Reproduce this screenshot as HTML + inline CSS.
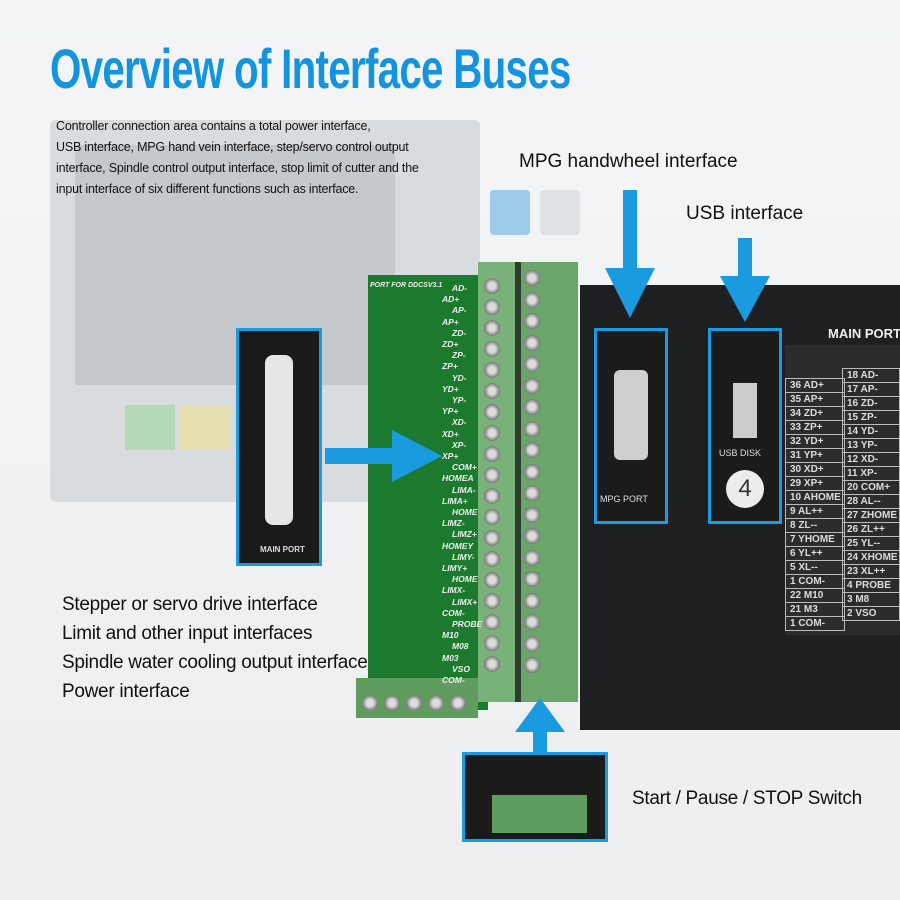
<!DOCTYPE html>
<html><head><meta charset="utf-8"><style>
body{margin:0;width:900px;height:900px;overflow:hidden;background:linear-gradient(180deg,#f4f5f6,#eceef0);font-family:"Liberation Sans",sans-serif;position:relative}
.a{position:absolute}
.t{color:#111}
.pin{position:absolute;font:bold italic 8.5px "Liberation Sans",sans-serif;color:#eee;white-space:nowrap}
.scr{position:absolute;width:16px;height:16px;border-radius:50%;background:radial-gradient(circle,#ddd 30%,#777 70%,#4f7c4f 100%)}
.cell{position:absolute;border:1px solid #bbb;font:bold 10px "Liberation Sans",sans-serif;color:#ddd;padding-left:4px;box-sizing:border-box;white-space:nowrap}
</style></head><body>
<div class="a" style="left:50px;top:120px;width:430px;height:382px;background:#d9dcdf;border-radius:6px"></div>
<div class="a" style="left:75px;top:145px;width:320px;height:240px;background:#c6c9cc"></div>
<div class="a" style="left:490px;top:190px;width:40px;height:45px;background:#9dcbe9;border-radius:4px"></div>
<div class="a" style="left:540px;top:190px;width:40px;height:45px;background:#e0e3e6;border-radius:4px"></div>
<div class="a" style="left:125px;top:405px;width:50px;height:45px;background:#b5d8b5"></div>
<div class="a" style="left:180px;top:405px;width:50px;height:45px;background:#e6e0b0"></div>
<div class="a" style="left:50px;top:36px;font:bold 56px 'Liberation Sans Narrow','Liberation Sans',sans-serif;color:#1494df;letter-spacing:-1px;white-space:nowrap;transform:scaleX(0.72);transform-origin:left">Overview of Interface Buses</div>
<div class="a t" style="left:56px;top:116px;font-size:12.5px;line-height:21px;width:440px;letter-spacing:-0.2px">Controller connection area contains a total power interface,<br>USB interface, MPG hand vein interface, step/servo control output<br>interface, Spindle control output interface, stop limit of cutter and the<br>input interface of six different functions such as interface.</div>
<div class="a t" style="left:519px;top:151px;font-size:19px">MPG handwheel interface</div>
<div class="a t" style="left:686px;top:203px;font-size:19px">USB interface</div>
<div class="a" style="left:580px;top:285px;width:320px;height:445px;background:#1e1f21"></div>
<div class="a" style="left:828px;top:326px;font:bold 13px 'Liberation Sans',sans-serif;color:#eee;white-space:nowrap">MAIN PORT</div>
<div class="a" style="left:785px;top:345px;width:115px;height:290px;background:#2b2c2e"></div>
<div id="tbl"></div>
<div class="a" style="left:368px;top:275px;width:120px;height:435px;background:#1c7a2e"></div>
<div class="a" style="left:478px;top:262px;width:100px;height:440px;background:#6aa56a"></div>
<div class="a" style="left:478px;top:262px;width:40px;height:440px;background:#78b278"></div>
<div class="a" style="left:515px;top:262px;width:6px;height:440px;background:#2b3d2b"></div>
<div class="a" style="left:356px;top:678px;width:122px;height:40px;background:#5e9d5e"></div>
<div class="a" style="left:370px;top:282px;font:bold italic 7px 'Liberation Sans',sans-serif;color:#eee;white-space:nowrap">PORT FOR DDCSV3.1</div>
<div id="pins"></div>
<div class="a" style="left:236px;top:328px;width:86px;height:238px;background:#1a1a1a;border:3px solid #1a9be0;box-sizing:border-box"></div>
<div class="a" style="left:265px;top:355px;width:28px;height:170px;background:#e5e5e5;border-radius:8px"></div>
<div class="a" style="left:260px;top:545px;font:bold 8px sans-serif;color:#ddd">MAIN PORT</div>
<div class="a" style="left:594px;top:328px;width:74px;height:196px;background:#1b1b1b;border:3px solid #1a9be0;box-sizing:border-box"></div>
<div class="a" style="left:614px;top:370px;width:34px;height:90px;background:#cfcfcf;border-radius:6px"></div>
<div class="a" style="left:600px;top:494px;font:9px sans-serif;color:#ddd">MPG PORT</div>
<div class="a" style="left:708px;top:328px;width:74px;height:196px;background:#1b1b1b;border:3px solid #1a9be0;box-sizing:border-box"></div>
<div class="a" style="left:733px;top:383px;width:24px;height:55px;background:#ccc"></div>
<div class="a" style="left:719px;top:448px;font:9px sans-serif;color:#ddd">USB DISK</div>
<div class="a" style="left:726px;top:470px;width:38px;height:38px;border-radius:50%;background:#ececec;font:24px sans-serif;color:#333;text-align:center;line-height:38px">4</div>
<div class="a" style="left:462px;top:752px;width:146px;height:90px;background:#1b1b1b;border:3px solid #1a9be0;box-sizing:border-box"></div>
<div class="a" style="left:492px;top:795px;width:95px;height:38px;background:#5e9d5e"></div>
<svg class="a" style="left:0;top:0" width="900" height="900">
<g fill="#1a9be0">
<rect x="623" y="190" width="14" height="80"/><polygon points="605,268 655,268 630,318"/>
<rect x="738" y="238" width="14" height="40"/><polygon points="720,276 770,276 745,322"/>
<rect x="325" y="448" width="70" height="16"/><polygon points="392,430 392,482 442,456"/>
<rect x="533" y="730" width="14" height="24"/><polygon points="515,732 565,732 540,698"/>
</g></svg>
<div class="a t" style="left:62px;top:590px;font-size:19px;line-height:29px;letter-spacing:-0.3px">Stepper or servo drive interface<br>Limit and other input interfaces<br>Spindle water cooling output interface<br>Power interface</div>
<div class="a t" style="left:632px;top:788px;font-size:19px;letter-spacing:-0.3px">Start / Pause / STOP Switch</div>
<script>
var L=[["36 AD+","18 AD-"],["35 AP+","17 AP-"],["34 ZD+","16 ZD-"],["33 ZP+","15 ZP-"],["32 YD+","14 YD-"],["31 YP+","13 YP-"],["30 XD+","12 XD-"],["29 XP+","11 XP-"],["10 AHOME","20 COM+"],["9 AL++","28 AL--"],["8 ZL--","27 ZHOME"],["7 YHOME","26 ZL++"],["6 YL++","25 YL--"],["5 XL--","24 XHOME"],["1 COM-","23 XL++"],["22 M10","4 PROBE"],["21 M3","3 M8"],["1 COM-","2 VSO"]];
var h="";
for(var i=0;i<L.length;i++){h+='<div class="cell" style="left:785px;top:'+(378+i*14)+'px;width:60px;height:15px;line-height:13px">'+L[i][0]+'</div>';
h+='<div class="cell" style="left:842px;top:'+(368+i*14)+'px;width:58px;height:15px;line-height:13px">'+L[i][1]+'</div>';}
document.getElementById('tbl').innerHTML=h;
var P=["AD-","AD+","AP-","AP+","ZD-","ZD+","ZP-","ZP+","YD-","YD+","YP-","YP+","XD-","XD+","XP-","XP+","COM+","HOMEA","LIMA-","LIMA+","HOME","LIMZ-","LIMZ+","HOMEY","LIMY-","LIMY+","HOME","LIMX-","LIMX+","COM-","PROBE","M10","M08","M03","VSO","COM-"];
var s="";
for(var i=0;i<P.length;i++){s+='<div class="pin" style="left:'+(i%2?442:452)+'px;top:'+(283+i*11.2)+'px">'+P[i]+'</div>';}
for(var i=0;i<19;i++){s+='<div class="scr" style="left:484px;top:'+(278+i*21)+'px"></div><div class="scr" style="left:524px;top:'+(270+i*21.5)+'px"></div>';}
for(var i=0;i<5;i++){s+='<div class="scr" style="left:'+(362+i*22)+'px;top:695px"></div>';}
document.getElementById('pins').innerHTML=s;
</script>
</body></html>
